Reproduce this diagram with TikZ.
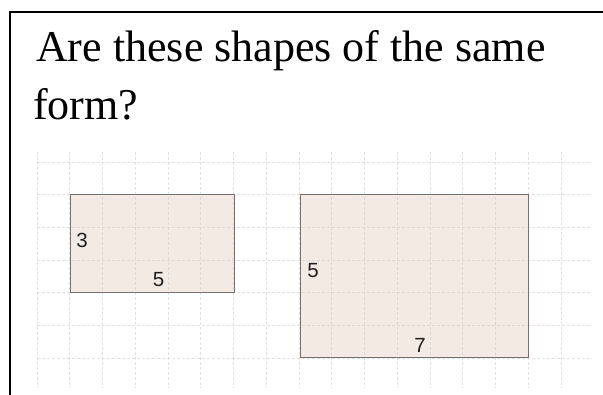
\documentclass[tikz,border=0pt]{standalone}
\usepackage{fontspec}
\setmainfont{Liberation Serif}
\newfontfamily\labelfont{Liberation Sans}
\definecolor{rectfill}{RGB}{243,234,228}
\definecolor{rectline}{RGB}{120,112,112}
\definecolor{gridcol}{RGB}{205,205,205}
\tikzset{
  gridline/.style={draw=gridcol, line width=0.8pt, dash pattern=on 3pt off 2pt, opacity=0.6},
  shapebox/.style={fill=rectfill, inner sep=0pt, outer sep=0pt},
  shapeedge/.style={draw=rectline, line width=1pt},
  numlabel/.style={font=\labelfont\fontsize{20.5}{20.5}\selectfont, inner sep=0pt, text=black!88},
  titletext/.style={font=\fontsize{44}{50}\selectfont, inner sep=0pt, anchor=base west},
  frameline/.style={draw=black, line width=2pt}
}
\begin{document}
\begin{tikzpicture}[x=1pt,y=-1pt]
\useasboundingbox (0,0) rectangle (603,395);
\fill[white] (0,0) rectangle (603,395);
% shapes (fill)
\node[shapebox, minimum width=164pt, minimum height=98pt] (small) at (152.5,244) {};
\node[shapebox, minimum width=228pt, minimum height=163pt] (big) at (414,276.5) {};
% grid
\foreach \i in {0,...,16} {
  \draw[gridline] ({37+32.75*\i},152) -- ({37+32.75*\i},388);
}
\foreach \j in {0,...,6} {
  \draw[gridline] (37,{162+32.7*\j}) -- (590,{162+32.7*\j});
}
% shapes (outline)
\draw[shapeedge] (small.north west) rectangle (small.south east);
\draw[shapeedge] (big.north west) rectangle (big.south east);
% labels
\node[numlabel] (s3) at (82,240.5) {3};
\node[numlabel] (s5) at (158.5,280) {5};
\node[numlabel] (b5) at (313,271) {5};
\node[numlabel] (b7) at (420,345) {7};
% title
\node[titletext] (t1) at (36,62) {Are these shapes of the same};
\node[titletext] (t2) at (33,120) {form?};
% frame
\coordinate (fa) at (10,395);
\coordinate (fb) at (10,12);
\coordinate (fc) at (603,12);
\draw[frameline] (fa) -- (fb) -- (fc);
\end{tikzpicture}
\end{document}
